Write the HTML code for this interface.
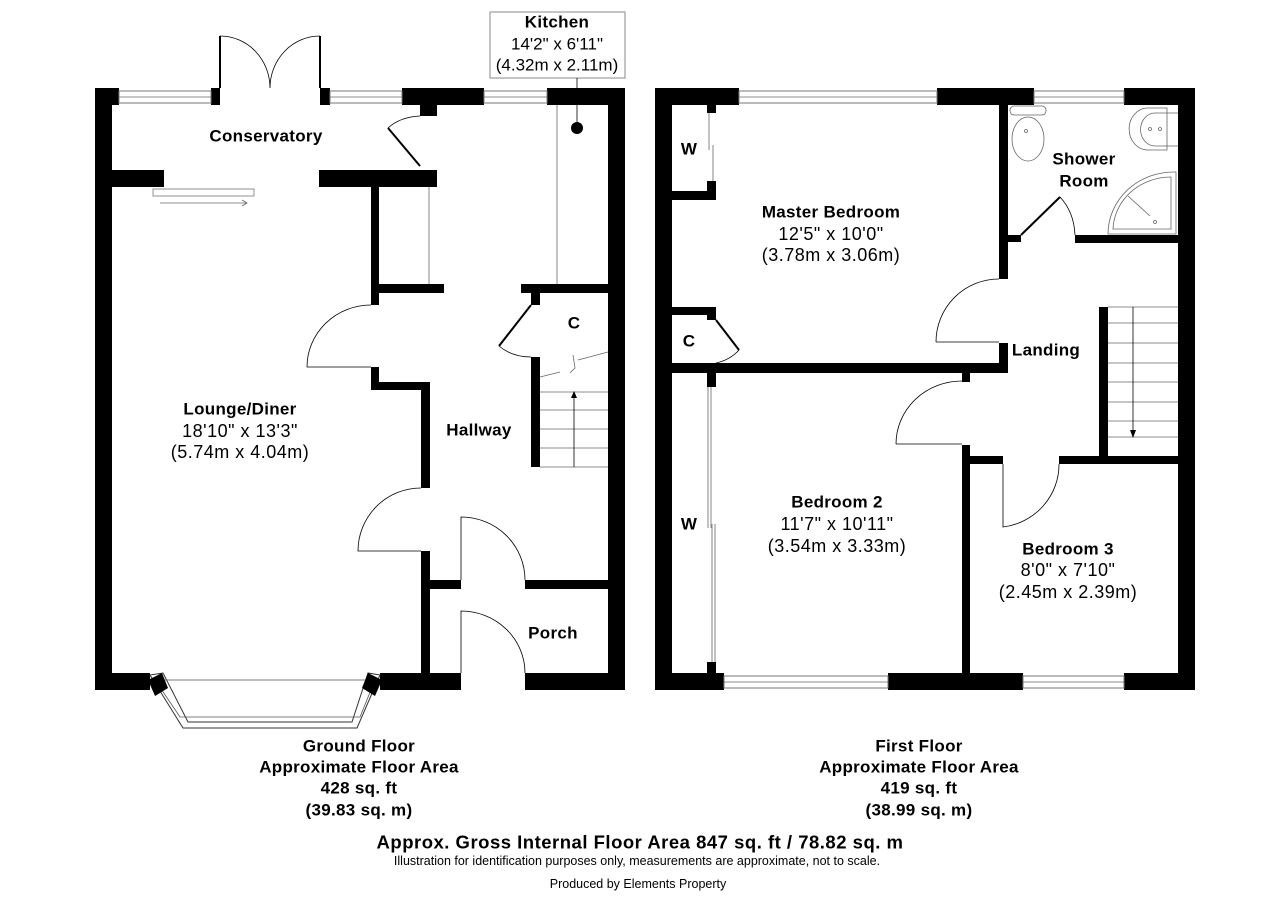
<!DOCTYPE html>
<html><head><meta charset="utf-8"><style>
html,body{margin:0;padding:0;background:#fff;}
svg{display:block;}
text{font-family:"Liberation Sans",Arial,sans-serif;fill:#000;}
.b{font-weight:bold;font-size:17px;letter-spacing:0.3px;}
.r{font-size:18px;letter-spacing:0.5px;}
.k{font-size:17px;}
.w{fill:#fff;stroke:#777;stroke-width:1;}
.t{fill:none;stroke:#666;stroke-width:0.8;}
.d{fill:none;stroke:#000;stroke-width:0.8;}
</style></head><body>
<svg width="1280" height="905" viewBox="0 0 1280 905" xmlns="http://www.w3.org/2000/svg">
<g fill="#000">
<rect x="95" y="88" width="17" height="602"/>
<rect x="608" y="88" width="17" height="602"/>
<rect x="95" y="88" width="24" height="17"/>
<rect x="211" y="88" width="9" height="17"/>
<rect x="320" y="88" width="10" height="17"/>
<rect x="402" y="88" width="82" height="17"/>
<rect x="547" y="88" width="78" height="17"/>
<rect x="420" y="105" width="17" height="11"/>
<rect x="112" y="170" width="52" height="17"/>
<rect x="319" y="170" width="118" height="17"/>
<rect x="371" y="187" width="8" height="118"/>
<rect x="379" y="284" width="65" height="9"/>
<rect x="521" y="284" width="87" height="9"/>
<rect x="531" y="293" width="9" height="12"/>
<rect x="531" y="357" width="9" height="110"/>
<rect x="371" y="367" width="8" height="23"/>
<rect x="371" y="382" width="59" height="8"/>
<rect x="421" y="382" width="9" height="106"/>
<rect x="421" y="551" width="9" height="124"/>
<rect x="430" y="580" width="31" height="9"/>
<rect x="525" y="580" width="83" height="9"/>
<rect x="95" y="673" width="55" height="17"/>
<rect x="380" y="673" width="81" height="17"/>
<rect x="525" y="673" width="100" height="17"/>
<rect x="655" y="88" width="17" height="602"/>
<rect x="1178" y="88" width="17" height="602"/>
<rect x="655" y="88" width="84" height="17"/>
<rect x="937" y="88" width="97" height="17"/>
<rect x="1124" y="88" width="71" height="17"/>
<rect x="655" y="673" width="69" height="17"/>
<rect x="888" y="673" width="135" height="17"/>
<rect x="1124" y="673" width="71" height="17"/>
<rect x="999" y="105" width="9" height="174"/>
<rect x="1008" y="235" width="13" height="7"/>
<rect x="1075" y="235" width="103" height="8"/>
<rect x="999" y="343" width="9" height="28"/>
<rect x="672" y="363" width="336" height="10"/>
<rect x="962" y="373" width="8" height="9"/>
<rect x="962" y="445" width="8" height="228"/>
<rect x="970" y="456" width="33" height="8"/>
<rect x="1059" y="456" width="119" height="8"/>
<rect x="1099" y="307" width="9" height="157"/>
<rect x="707" y="105" width="9" height="8"/>
<rect x="707" y="181" width="9" height="19"/>
<rect x="672" y="191" width="44" height="9"/>
<rect x="672" y="307" width="44" height="8"/>
<rect x="707" y="307" width="9" height="13"/>
<rect x="707" y="373" width="9" height="14"/>
<rect x="707" y="662" width="9" height="11"/>
</g>
<g>
<rect class="w" x="119" y="91" width="92" height="12"/><line class="t" x1="119" y1="97" x2="211" y2="97"/>
<rect class="w" x="330" y="91" width="72" height="12"/><line class="t" x1="330" y1="97" x2="402" y2="97"/>
<rect class="w" x="484" y="91" width="63" height="12"/><line class="t" x1="484" y1="97" x2="547" y2="97"/>
<rect class="w" x="739" y="91" width="198" height="12"/><line class="t" x1="739" y1="97" x2="937" y2="97"/>
<rect class="w" x="1034" y="91" width="90" height="12"/><line class="t" x1="1034" y1="97" x2="1124" y2="97"/>
<rect class="w" x="724" y="676" width="164" height="12"/><line class="t" x1="724" y1="682" x2="888" y2="682"/>
<rect class="w" x="1023" y="676" width="101" height="12"/><line class="t" x1="1023" y1="682" x2="1124" y2="682"/>
</g>
<polygon points="150,675 163,673 188,722 352,722 368,673 380,675 357,728 183,728" fill="#fff" stroke="#333" stroke-width="1"/>
<polygon points="155,680 180,717 360,717 375,680" fill="none" stroke="#555" stroke-width="0.8"/>
<polygon points="148,680 162,673 168,688 155,696" fill="#000"/>
<polygon points="382,680 368,673 362,688 375,696" fill="#000"/>
<line x1="220" y1="36" x2="220" y2="88" stroke="#000" stroke-width="2"/>
<line x1="320" y1="36" x2="320" y2="88" stroke="#000" stroke-width="2"/>
<path class="d" d="M220,36 A50,52 0 0 1 270,88 M320,36 A50,52 0 0 0 270,88"/>
<line x1="420" y1="166" x2="388" y2="128" stroke="#000" stroke-width="2"/>
<path class="d" d="M388,128 Q400,117 420,116"/>
<rect x="153" y="189" width="101" height="7" fill="#fff" stroke="#777" stroke-width="0.8"/>
<line class="t" x1="160" y1="203" x2="247" y2="203"/><path class="t" d="M242,200 L247,203 L242,206"/>
<line class="t" x1="429" y1="187" x2="429" y2="284"/>
<line class="t" x1="557" y1="105" x2="557" y2="284"/>
<rect x="490" y="12" width="135" height="66" fill="#fff" stroke="#888" stroke-width="1"/>
<line class="d" x1="577" y1="78" x2="577" y2="122"/>
<circle cx="577" cy="128" r="6" fill="#000"/>
<line x1="531" y1="305" x2="499" y2="346" stroke="#000" stroke-width="2"/>
<path class="d" d="M499,346 Q512,357 531,357"/>
<g class="t">
<path d="M540,377 L560,372 M573,355 L575,368 L570,373 M578,360 L608,352"/>
<line x1="540" y1="392" x2="608" y2="392"/><line x1="540" y1="410" x2="608" y2="410"/>
<line x1="540" y1="429" x2="608" y2="429"/><line x1="540" y1="448" x2="608" y2="448"/>
<line x1="540" y1="467" x2="608" y2="467"/>
<line x1="574" y1="467" x2="574" y2="396" stroke="#000"/>
</g>
<polygon points="571,398 577,398 574,391" fill="#000"/>
<path class="d" d="M371,305 A64,62 0 0 0 307,367 L371,367"/>
<path class="d" d="M421,488 A63,63 0 0 0 358,551 L421,551"/>
<path class="d" d="M461,580 L461,517 A64,63 0 0 1 525,580"/>
<path class="d" d="M461,673 L461,611 A64,62 0 0 1 525,673"/>
<g class="t">
<line x1="709" y1="113" x2="709" y2="150"/><line x1="713" y1="145" x2="713" y2="181"/>
<line x1="711" y1="387" x2="711" y2="528"/><line x1="715" y1="524" x2="715" y2="662"/>
<line x1="708" y1="387" x2="708" y2="528"/><line x1="712" y1="524" x2="712" y2="662"/>
</g>
<line x1="716" y1="320" x2="739" y2="350" stroke="#000" stroke-width="2"/>
<path class="d" d="M739,350 Q730,360 716,363"/>
<line x1="1021" y1="235" x2="1060" y2="197" stroke="#000" stroke-width="2"/>
<path class="d" d="M1060,197 Q1074,212 1075,235"/>
<path class="d" d="M936,342 L999,342 M936,342 A63,63 0 0 1 999,279"/>
<path class="d" d="M896,444 L962,444 M896,444 A66,63 0 0 1 962,381"/>
<path class="d" d="M1003,464 L1003,527 A64,63 0 0 0 1059,464"/>
<g class="t">
<line x1="1108" y1="307" x2="1178" y2="307"/><line x1="1108" y1="323" x2="1178" y2="323"/>
<line x1="1108" y1="343" x2="1178" y2="343"/><line x1="1108" y1="363" x2="1178" y2="363"/>
<line x1="1108" y1="382" x2="1178" y2="382"/><line x1="1108" y1="402" x2="1178" y2="402"/>
<line x1="1108" y1="421" x2="1178" y2="421"/><line x1="1108" y1="437" x2="1178" y2="437"/>
<line x1="1133" y1="307" x2="1133" y2="432" stroke="#000"/>
</g>
<polygon points="1130,430 1136,430 1133,438" fill="#000"/>
<g class="t" stroke="#444">
<rect x="1010" y="106" width="36" height="9" rx="4"/>
<ellipse cx="1028" cy="139" rx="16" ry="22"/>
<circle cx="1026" cy="131" r="1.5"/>
<path d="M1167,108 L1148,108 A18,20 0 0 0 1148,150 L1167,150 Z"/>
<path d="M1178,113 L1155,113 A14,16 0 0 0 1155,146 L1178,146"/>
<circle cx="1150" cy="129" r="1.5"/><circle cx="1160" cy="129" r="1.5"/>
<path d="M1176,172 A66,62 0 0 0 1108,234 L1176,234 Z"/>
<path d="M1171,177 A58,54 0 0 0 1113,229 L1171,229 Z"/>
<line x1="1128" y1="196" x2="1150" y2="216"/><circle cx="1155" cy="222" r="1.5"/>
</g>
<g text-anchor="middle" dominant-baseline="central">
<text class="b" x="557" y="22">Kitchen</text>
<text class="k" x="557" y="44">14'2" x 6'11"</text>
<text class="k" x="557" y="65">(4.32m x 2.11m)</text>
<text class="b" x="266" y="136">Conservatory</text>
<text class="b" x="240" y="409">Lounge/Diner</text>
<text class="r" x="240" y="431">18'10" x 13'3"</text>
<text class="r" x="240" y="452">(5.74m x 4.04m)</text>
<text class="b" x="479" y="430">Hallway</text>
<text class="b" x="574" y="323">C</text>
<text class="b" x="553" y="633">Porch</text>
<text class="b" x="689" y="149">W</text>
<text class="b" x="831" y="212">Master Bedroom</text>
<text class="r" x="831" y="234">12'5" x 10'0"</text>
<text class="r" x="831" y="255">(3.78m x 3.06m)</text>
<text class="b" x="1084" y="159">Shower</text>
<text class="b" x="1084" y="181">Room</text>
<text class="b" x="689" y="341">C</text>
<text class="b" x="1046" y="350">Landing</text>
<text class="b" x="837" y="502">Bedroom 2</text>
<text class="r" x="837" y="524">11'7" x 10'11"</text>
<text class="r" x="837" y="546">(3.54m x 3.33m)</text>
<text class="b" x="689" y="524">W</text>
<text class="b" x="1068" y="549">Bedroom 3</text>
<text class="r" x="1068" y="570">8'0" x 7'10"</text>
<text class="r" x="1068" y="592">(2.45m x 2.39m)</text>
<text class="b" x="359" y="746">Ground Floor</text>
<text class="b" x="359" y="767">Approximate Floor Area</text>
<text class="b" x="359" y="788">428 sq. ft</text>
<text class="b" x="359" y="810">(39.83 sq. m)</text>
<text class="b" x="919" y="746">First Floor</text>
<text class="b" x="919" y="767">Approximate Floor Area</text>
<text class="b" x="919" y="788">419 sq. ft</text>
<text class="b" x="919" y="810">(38.99 sq. m)</text>
<text x="640" y="842" style="font-size:18.5px;font-weight:bold;letter-spacing:0.5px">Approx. Gross Internal Floor Area 847 sq. ft / 78.82 sq. m</text>
<text x="637" y="861" style="font-size:12.5px">Illustration for identification purposes only, measurements are approximate, not to scale.</text>
<text x="638" y="884" style="font-size:12.5px">Produced by Elements Property</text>
</g>
</svg>
</body></html>
